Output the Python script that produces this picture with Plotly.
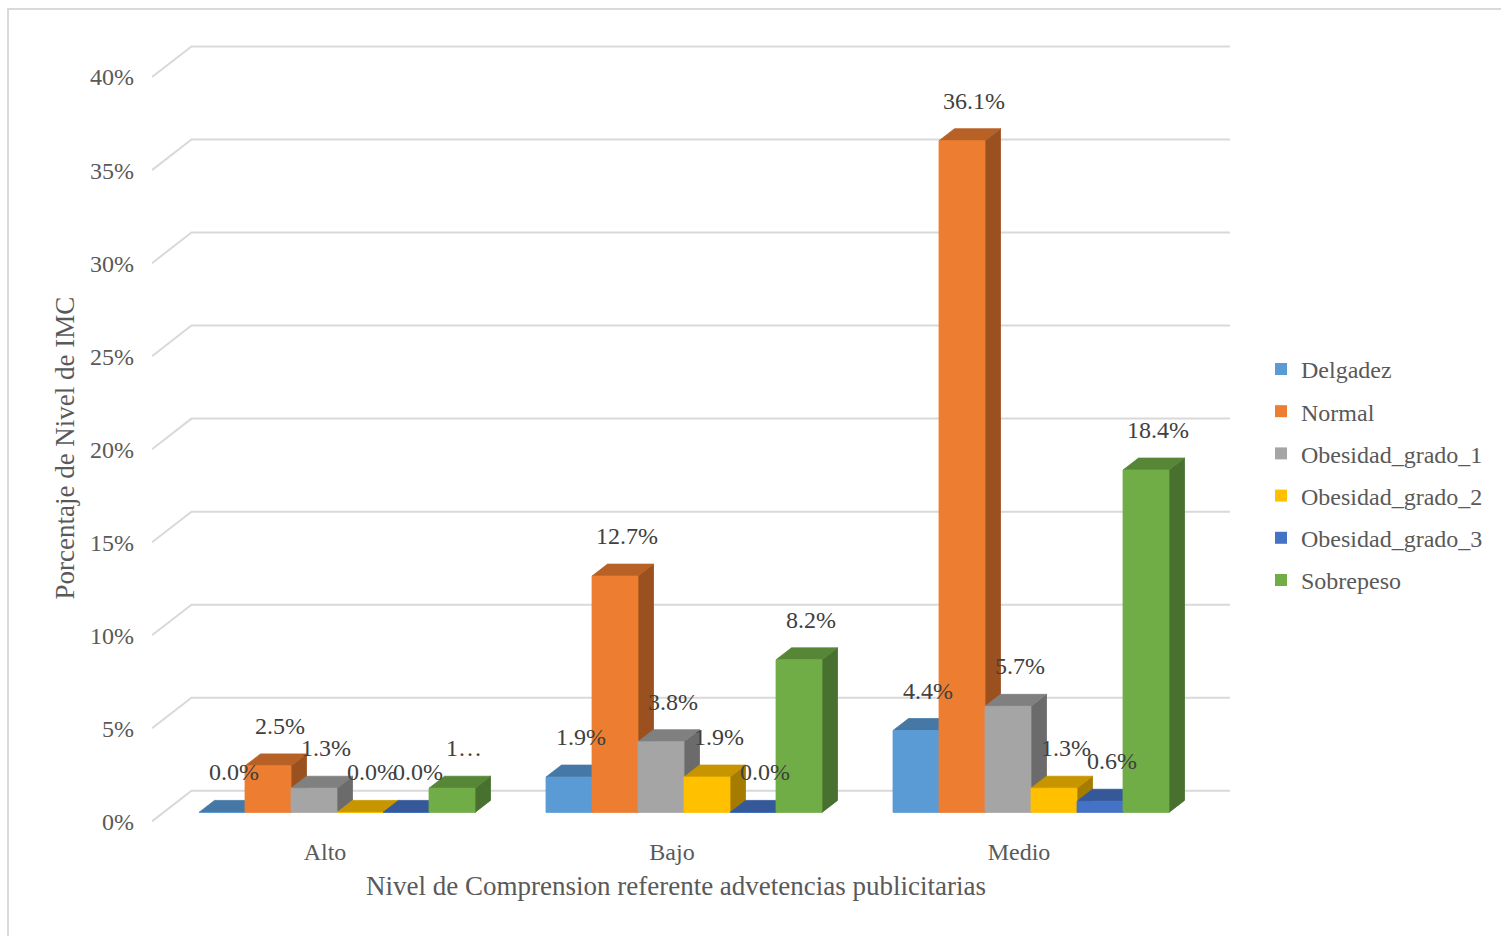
import plotly.graph_objects as go

# ---------------- data ----------------
categories = ["Alto", "Bajo", "Medio"]
series_names = ["Delgadez", "Normal", "Obesidad_grado_1",
                "Obesidad_grado_2", "Obesidad_grado_3", "Sobrepeso"]
delgadez = [0.0, 1.9, 4.4]
normal = [2.5, 12.7, 36.1]
obesidad_grado_1 = [1.3, 3.8, 5.7]
obesidad_grado_2 = [0.0, 1.9, 1.3]
obesidad_grado_3 = [0.0, 0.0, 0.6]
sobrepeso = [1.3, 8.2, 18.4]
y_ticks = [0, 5, 10, 15, 20, 25, 30, 35, 40]
y_tick_labels = [f"{t}%" for t in y_ticks]
x_title = "Nivel de Comprension referente advetencias publicitarias"
y_title = "Porcentaje de Nivel de IMC"
# label shown truncated in the original chart
truncated_labels = {("Sobrepeso", "Alto"): "1…"}

series_values = [delgadez, normal, obesidad_grado_1,
                 obesidad_grado_2, obesidad_grado_3, sobrepeso]
colors = ["#5B9BD5", "#ED7D31", "#A5A5A5", "#FFC000", "#4472C4", "#70AD47"]

# ---------------- geometry (pixels) ----------------
W, H = 1501, 936
PLOT_L, PLOT_R = 152, 1230
PLOT_T, PLOT_B = 40, 834
BASE_PX = 815            # 0% on bar fronts
PX_PER_PCT = 18.667
GROUP0_PX, GROUP_STEP_PX = 337, 347
BAR_W_PX = 46
DEPTH_DX_PX, DEPTH_DY_PX = 15.5, 12
FLOOR_FRONT_PX = 9       # tick label / front edge below bar base
WALL_BACK_PX = 21.7      # back wall above bar base
WALL_DX_PX = 39.5
FONT = "Liberation Serif"
TXT = "#595959"
LBL = "#404040"
GRID = "#D9D9D9"


def xu(px):
    return (px - GROUP0_PX) / GROUP_STEP_PX


def pct(px):
    return px / PX_PER_PCT


def shade(hexcol, f):
    h = hexcol.lstrip("#")
    r, g, b = (int(h[i:i + 2], 16) for i in (0, 2, 4))
    return "rgb({},{},{})".format(int(r * f), int(g * f), int(b * f))


w = BAR_W_PX / GROUP_STEP_PX
ddx = DEPTH_DX_PX / GROUP_STEP_PX
ddy = pct(DEPTH_DY_PX)
n = len(series_names)

fig = go.Figure()

# legend entries
for name, col in zip(series_names, colors):
    fig.add_trace(go.Scatter(
        x=[None], y=[None], mode="markers", name=name, legendgroup=name,
        marker=dict(symbol="square", size=12, color=col),
        hoverinfo="skip"))

# perspective gridlines (floor edge diagonal + back wall line)
gx, gy = [], []
for t in y_ticks:
    gx += [xu(PLOT_L), xu(PLOT_L + WALL_DX_PX), xu(PLOT_R), None]
    gy += [t - pct(FLOOR_FRONT_PX), t + pct(WALL_BACK_PX),
           t + pct(WALL_BACK_PX), None]
fig.add_trace(go.Scatter(x=gx, y=gy, mode="lines", showlegend=False,
                         line=dict(color=GRID, width=2), hoverinfo="skip"))

fronts, sides, tops = [], [], []
for k, (name, vals, col) in enumerate(zip(series_names, series_values, colors)):
    fx, fy, sx, sy, tx, ty = [], [], [], [], [], []
    for i, v in enumerate(vals):
        L = i - n * w / 2 + k * w
        R = L + w
        fx += [L, R, R, L, L, None]
        fy += [0, 0, v, v, 0, None]
        sx += [R, R + ddx, R + ddx, R, R, None]
        sy += [0, ddy, v + ddy, v, 0, None]
        tx += [L, L + ddx, R + ddx, R, L, None]
        ty += [v, v + ddy, v + ddy, v, v, None]
    sc = shade(col, 0.65)
    tc = shade(col, 0.78)
    sides.append(go.Scatter(x=sx, y=sy, mode="lines", fill="toself",
                            fillcolor=sc, line=dict(color=sc, width=0.8),
                            legendgroup=name, showlegend=False, hoverinfo="skip"))
    tops.append(go.Scatter(x=tx, y=ty, mode="lines", fill="toself",
                           fillcolor=tc, line=dict(color=tc, width=0.8),
                           legendgroup=name, showlegend=False, hoverinfo="skip"))
    fronts.append(go.Scatter(x=fx, y=fy, mode="lines", fill="toself",
                             fillcolor=col, line=dict(color=col, width=0.8),
                             legendgroup=name, showlegend=False, hoverinfo="skip"))
for tr in sides + tops + fronts:
    fig.add_trace(tr)

# data labels
annotations = []
for k, (name, vals) in enumerate(zip(series_names, series_values)):
    for i, v in enumerate(vals):
        cx = i - n * w / 2 + (k + 0.5) * w
        txt = truncated_labels.get((name, categories[i]), f"{v:.1f}%")
        annotations.append(dict(
            x=cx, y=v, xref="x", yref="y", text=txt, showarrow=False,
            xanchor="center", yanchor="middle",
            xshift=12, yshift=40, font=dict(family=FONT, size=24, color=LBL)))

annotations.append(dict(
    x=65 / W, y=(H - 450) / H, xref="paper", yref="paper", text=y_title,
    xanchor="center", yanchor="middle",
    textangle=-90, showarrow=False, font=dict(family=FONT, size=27, color=TXT)))
annotations.append(dict(
    x=676 / W, y=(H - 889) / H, xref="paper", yref="paper", text=x_title,
    xanchor="center", yanchor="middle",
    showarrow=False, font=dict(family=FONT, size=27, color=TXT)))

y_range = [pct(BASE_PX - PLOT_B), pct(BASE_PX - PLOT_T)]
label_shift = pct(FLOOR_FRONT_PX)

fig.update_layout(
    width=W, height=H, autosize=False,
    margin=dict(l=0, r=0, t=0, b=0),
    paper_bgcolor="white", plot_bgcolor="white",
    font=dict(family=FONT, size=24, color=TXT),
    xaxis=dict(domain=[PLOT_L / W, PLOT_R / W],
               range=[xu(PLOT_L), xu(PLOT_R)],
               tickvals=[i - 12 / GROUP_STEP_PX for i in range(len(categories))],
               ticktext=categories, showgrid=False, zeroline=False,
               showline=False, ticks="", ticklabelstandoff=4,
               tickfont=dict(family=FONT, size=24, color=TXT)),
    yaxis=dict(domain=[(H - PLOT_B) / H, (H - PLOT_T) / H],
               range=y_range, visible=False),
    yaxis2=dict(overlaying="y", anchor="x", side="left",
                range=[y_range[0] + label_shift, y_range[1] + label_shift],
                tickvals=y_ticks, ticktext=y_tick_labels,
                showgrid=False, zeroline=False, showline=False, ticks="",
                ticklabelstandoff=17,
                tickfont=dict(family=FONT, size=24, color=TXT)),
    legend=dict(x=1261 / W, y=(H - 348) / H, xanchor="left", yanchor="top",
                tracegroupgap=8, itemwidth=30, bgcolor="rgba(0,0,0,0)",
                font=dict(family=FONT, size=24, color=TXT)),
    annotations=annotations,
    shapes=[dict(type="rect", xref="paper", yref="paper",
                 x0=8 / W, x1=1.01, y0=-0.01, y1=(H - 9) / H,
                 line=dict(color=GRID, width=2), fillcolor="rgba(0,0,0,0)",
                 layer="below")],
    showlegend=True,
)

# an invisible trace on yaxis2 so that the tick-label axis is rendered
fig.add_trace(go.Scatter(x=[None], y=[None], yaxis="y2", showlegend=False,
                         hoverinfo="skip"))

fig.write_html("out.html")
